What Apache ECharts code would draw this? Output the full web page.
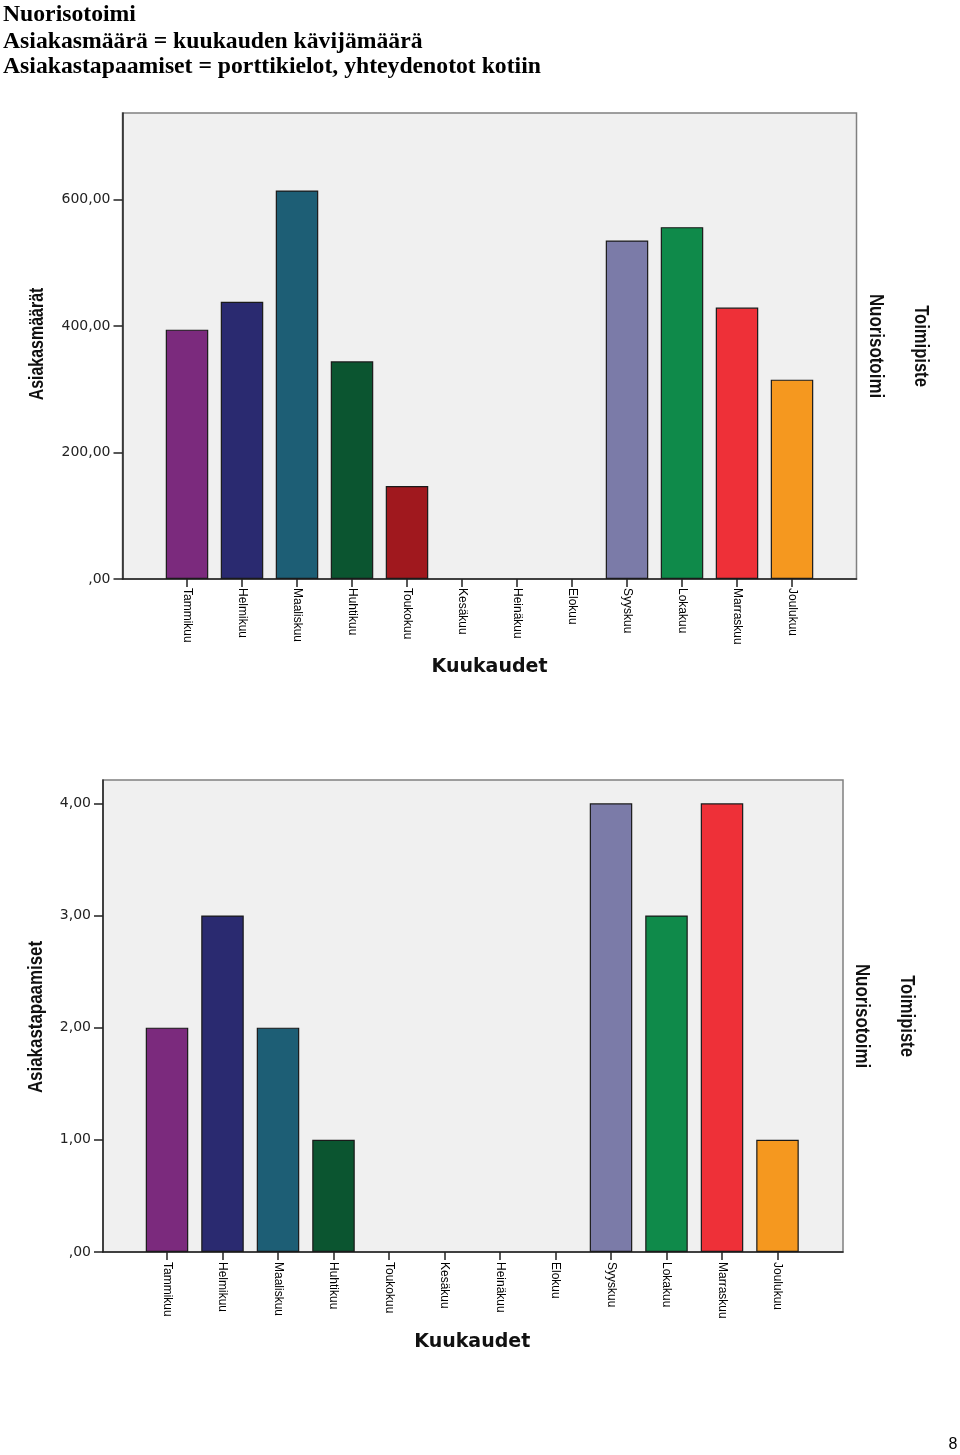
<!DOCTYPE html>
<html>
<head>
<meta charset="utf-8">
<script src="https://cdn.jsdelivr.net/npm/echarts@6/dist/echarts.min.js"></script>
<style>
html,body{margin:0;padding:0;background:#fff;}
#main{width:960px;height:1455px;}
</style>
</head>
<body>
<div id="main"></div>
<script>
// ---- data ----
const months = ['Tammikuu','Helmikuu','Maaliskuu','Huhtikuu','Toukokuu','Kesäkuu','Heinäkuu','Elokuu','Syyskuu','Lokakuu','Marraskuu','Joulukuu'];
const asiakasmaarat = [394, 438, 614, 344, 147, null, null, null, 535, 556, 429, 315];
const asiakastapaamiset = [2, 3, 2, 1, null, null, null, null, 4, 3, 4, 1];
const monthColors = ['#7B2A7D','#2A2A70','#1D5E75','#0B5530','#A0181E','#C8C8C8','#C8C8C8','#C8C8C8','#7B7BA8','#0F8A4A','#EE3038','#F5981F'];
const headerLines = ['Nuorisotoimi','Asiakasmäärä = kuukauden kävijämäärä','Asiakastapaamiset = porttikielot, yhteydenotot kotiin'];
const yTitle1 = 'Asiakasmäärät';
const yTitle2 = 'Asiakastapaamiset';
const xTitle = 'Kuukaudet';
const legendTitle = 'Toimipiste';
const legendItem = 'Nuorisotoimi';
const pageNumber = '8';

const SANS = "'Liberation Sans',Arial,sans-serif";
const fmt = v => v === 0 ? ',00' : v.toFixed(2).replace('.', ',');

function colored(arr){
  return arr.map((v,i) => v == null ? null : {value: v, itemStyle: {color: monthColors[i]}});
}

const chart = echarts.init(document.getElementById('main'), null, {renderer:'canvas'});

function frameGrid(l,t,w,h){
  return {left:l, top:t, width:w, height:h, show:true, backgroundColor:'#F0F0F0', borderColor:'#808080', borderWidth:1.5, outerBoundsMode:'none', containLabel:false};
}
function barGrid(l,t,w,h){
  return {left:l, top:t, width:w, height:h, show:false, outerBoundsMode:'none', containLabel:false};
}

const yLabel = {show:true, color:'#222', fontFamily:'DejaVu Sans', fontSize:14, margin:12, formatter: fmt, showMaxLabel:false};
const xLabel = m => ({rotate:-90, interval:0, fontFamily:SANS, fontSize:12, color:'#000', margin:m});
const xName = {fontFamily:'DejaVu Sans', fontWeight:'bold', fontSize:19, color:'#111'};

function vtext(x, y, text, rot, sx){
  return {type:'text', x:x, y:y, rotation:rot, scaleX:sx,
    style:{text:text, x:0, y:0, align:'center', verticalAlign:'middle', font:'bold 21px ' + SANS, fill:'#111'}};
}

const option = {
  animation:false,
  backgroundColor:'#fff',
  grid:[
    frameGrid(122.5, 113, 734, 466),
    barGrid(159.5, 113, 660, 466),
    frameGrid(103, 780, 740, 472),
    barGrid(139.25, 780, 666, 472)
  ],
  xAxis:[
    {gridIndex:0, type:'category', data:months, show:true, axisLine:{show:true, lineStyle:{color:'#222', width:1.5}}, axisTick:{show:false}, axisLabel:{show:false}, splitLine:{show:false}},
    {gridIndex:1, type:'category', data:months, boundaryGap:true,
     axisLine:{show:false}, axisTick:{show:true, alignWithLabel:true, length:8, lineStyle:{color:'#222', width:1.5}},
     axisLabel:xLabel(9),
     name:xTitle, nameLocation:'middle', nameGap:79, nameTextStyle:xName},
    {gridIndex:2, type:'category', data:months, show:true, axisLine:{show:true, lineStyle:{color:'#222', width:1.5}}, axisTick:{show:false}, axisLabel:{show:false}, splitLine:{show:false}},
    {gridIndex:3, type:'category', data:months, boundaryGap:true,
     axisLine:{show:false}, axisTick:{show:true, alignWithLabel:true, length:8, lineStyle:{color:'#222', width:1.5}},
     axisLabel:xLabel(10),
     name:xTitle, nameLocation:'middle', nameGap:81, nameTextStyle:xName}
  ],
  yAxis:[
    {gridIndex:0, type:'value', min:0, max:736.4, interval:200,
     axisLine:{show:true, lineStyle:{color:'#222', width:1.5}}, axisTick:{show:true, length:9, lineStyle:{color:'#222', width:1.5}},
     axisLabel:yLabel, splitLine:{show:false}},
    {gridIndex:1, type:'value', min:0, max:736.4, show:false, splitLine:{show:false}},
    {gridIndex:2, type:'value', min:0, max:4.208, interval:1,
     axisLine:{show:true, lineStyle:{color:'#222', width:1.5}}, axisTick:{show:true, length:9, lineStyle:{color:'#222', width:1.5}},
     axisLabel:yLabel, splitLine:{show:false}},
    {gridIndex:3, type:'value', min:0, max:4.208, show:false, splitLine:{show:false}}
  ],
  series:[
    {type:'bar', xAxisIndex:1, yAxisIndex:1, data:colored(asiakasmaarat), barWidth:42.5,
     itemStyle:{borderColor:'#1a1a1a', borderWidth:1.2}},
    {type:'bar', xAxisIndex:3, yAxisIndex:3, data:colored(asiakastapaamiset), barWidth:42.5,
     itemStyle:{borderColor:'#1a1a1a', borderWidth:1.2}}
  ],
  graphic:[
    {type:'text', left:3, top:3, style:{text:headerLines[0], font:'bold 23.7px "Liberation Serif"', fill:'#000'}},
    {type:'text', left:3, top:30, style:{text:headerLines[1], font:'bold 23.7px "Liberation Serif"', fill:'#000'}},
    {type:'text', left:3, top:55, style:{text:headerLines[2], font:'bold 23.7px "Liberation Serif"', fill:'#000'}},
    vtext(37, 344, yTitle1, Math.PI/2, 0.76),
    vtext(36, 1017, yTitle2, Math.PI/2, 0.805),
    vtext(875.5, 346, legendItem, -Math.PI/2, 0.805),
    vtext(921, 346, legendTitle, -Math.PI/2, 0.79),
    vtext(862, 1016, legendItem, -Math.PI/2, 0.805),
    vtext(907, 1016, legendTitle, -Math.PI/2, 0.79),
    {type:'text', x:953, y:1445, style:{text:pageNumber, x:0, y:0, align:'center', verticalAlign:'middle', font:'16px "Liberation Sans"', fill:'#000'}}
  ]
};
chart.setOption(option);
</script>
</body>
</html>
